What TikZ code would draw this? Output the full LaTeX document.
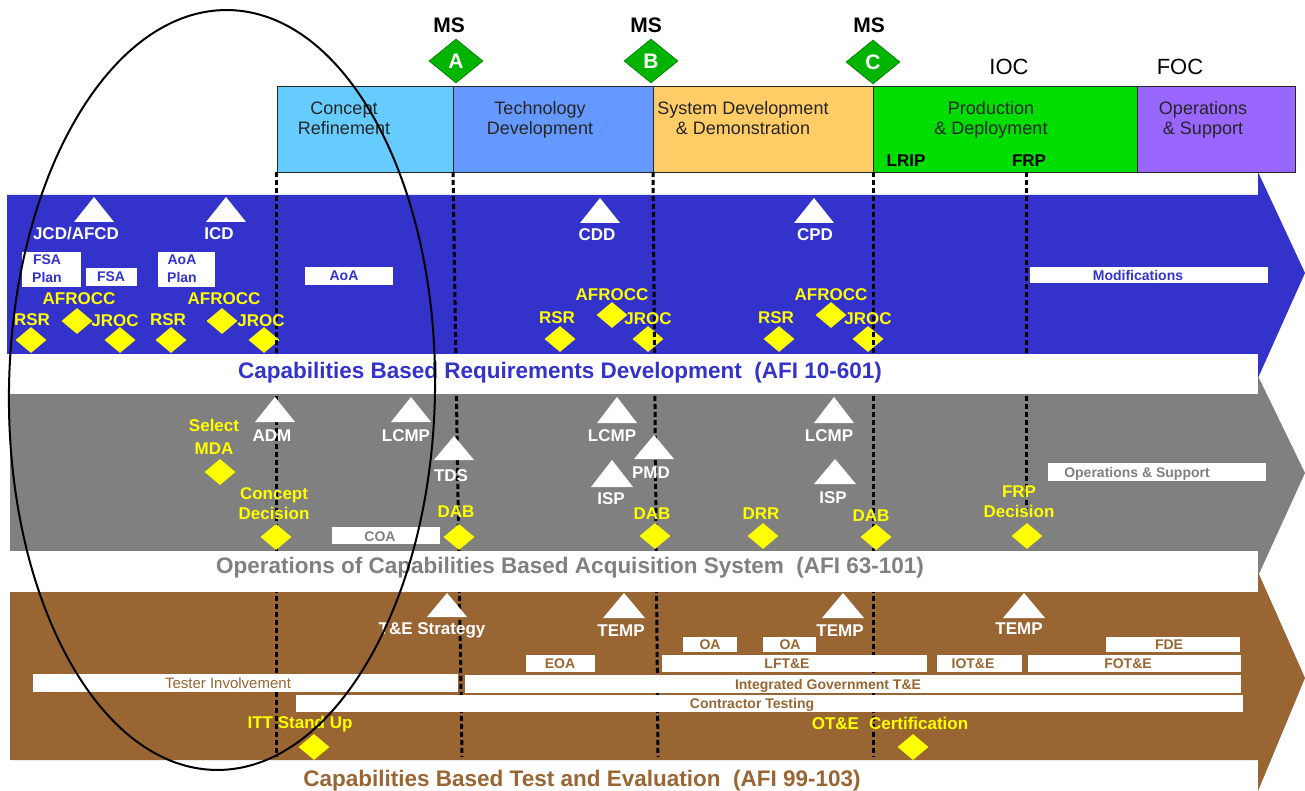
\documentclass[tikz,border=0pt]{standalone}
\usepackage{fontspec}
\setmainfont{Liberation Sans}
\usepackage{tikz}
\usetikzlibrary{shapes.geometric}
\definecolor{reqblue}{HTML}{3333CC}
\definecolor{acqgray}{HTML}{808080}
\definecolor{tebrown}{HTML}{996633}
\definecolor{crblue}{HTML}{66CCFF}
\definecolor{tdblue}{HTML}{6699FF}
\definecolor{sddorange}{HTML}{FFCC66}
\definecolor{pdgreen}{HTML}{00DD00}
\definecolor{ospurple}{HTML}{9966FF}
\definecolor{msgreen}{HTML}{00B400}
\definecolor{msedge}{HTML}{007700}
\definecolor{evyellow}{HTML}{FFFF00}

\begin{document}
\begin{tikzpicture}[line join=miter,x=1pt,y=-1pt,
    phasebox/.style={draw=black!85,line width=0.9pt},
    phasetext/.style={align=center,inner sep=0pt,text=black!85,font=\fontsize{18}{20}\selectfont},
    ratetext/.style={inner sep=0pt,text height=12.2pt,text depth=0pt,font=\fontsize{17}{17}\selectfont\bfseries},
    mstext/.style={inner sep=0pt,text height=15pt,text depth=0pt,font=\fontsize{21}{21}\selectfont\bfseries},
    msdia/.style={diamond,draw=msedge,fill=msgreen,line width=0.6pt,minimum width=54pt,minimum height=44pt,inner sep=0pt,text=white,text height=15pt,text depth=0pt,font=\fontsize{21}{21}\selectfont\bfseries},
    octext/.style={inner sep=0pt,text height=15.8pt,text depth=0pt,font=\fontsize{22}{22}\selectfont},
    msline/.style={line width=3pt,dash pattern=on 5pt off 3pt},
    doctri/.style={fill=white},
    doctext/.style={inner sep=0pt,text=white,text height=12.2pt,text depth=0pt,font=\fontsize{17}{17}\selectfont\bfseries},
    evdia/.style={diamond,fill=evyellow,minimum width=31pt,minimum height=26pt,inner sep=0pt},
    evtext/.style={inner sep=0pt,text=evyellow,text height=12.2pt,text depth=0pt,font=\fontsize{17}{17}\selectfont\bfseries},
    evtwo/.style={inner sep=0pt,text=evyellow,align=center,font=\fontsize{17}{20}\selectfont\bfseries},
    actbox/.style={fill=white},
    acttext/.style={inner sep=0pt,text height=10pt,text depth=0pt,font=\fontsize{14}{14}\selectfont\bfseries},
    acttwo/.style={inner sep=0pt,align=center,font=\fontsize{14}{18}\selectfont\bfseries},
    banner/.style={inner sep=0pt,text height=16.1pt,text depth=0pt,font=\fontsize{22.5}{24}\selectfont\bfseries}]
  \useasboundingbox (0,0) rectangle (1305,791);

  % the three process arrows
  \fill[reqblue] (7,195) -- (1258,195) -- (1258,172) -- (1305,273) -- (1258,378) -- (1258,354) -- (7,354) -- cycle;
  \fill[acqgray] (10,394) -- (1258,394) -- (1258,376) -- (1305,473) -- (1258,576) -- (1258,551) -- (10,551) -- cycle;
  \fill[tebrown] (10,592) -- (1258,592) -- (1258,572) -- (1305,678) -- (1258,791) -- (1258,760) -- (10,760) -- cycle;

  % phases
  \draw[phasebox,fill=crblue] (277,86) rectangle (453,172);
  \draw[phasebox,fill=tdblue] (453,86) rectangle (653,172);
  \draw[phasebox,fill=sddorange] (653,86) rectangle (873,172);
  \draw[phasebox,fill=pdgreen] (873,86) rectangle (1137,172);
  \draw[phasebox,fill=ospurple] (1137,86) rectangle (1295,172);
  \node[phasetext] (pCR) at (344,118) {Concept\\Refinement};
  \node[phasetext] (pTD) at (540,120) {Technology\\Development};
  \node[phasetext] (pSDD) at (743,118) {System Development\\\& Demonstration};
  \node[phasetext] (pPD) at (991,120) {Production\\\& Deployment};
  \node[phasetext] (pOS) at (1203,120) {Operations\\\& Support};
  \node[ratetext] (lLRIP) at (906,160) {LRIP};
  \node[ratetext] (lFRP) at (1029,160) {FRP};

  % milestones
  \node[mstext] (msAtxt) at (449,25) {MS};
  \node[mstext] (msBtxt) at (646,25) {MS};
  \node[mstext] (msCtxt) at (869,25) {MS};
  \node[msdia] (msA) at (456,61) {A};
  \node[msdia] (msB) at (651,61) {B};
  \node[msdia] (msC) at (873,62) {C};
  \node[octext] (lIOC) at (1009,67) {IOC};
  \node[octext] (lFOC) at (1180,67) {FOC};

  % requirements events
  \node[evdia] (dRSRa) at (31,340) {};
  \node[evdia] (dAFa) at (77,321) {};
  \node[evdia] (dJRa) at (120,340) {};
  \node[evdia] (dRSRb) at (171,340) {};
  \node[evdia] (dAFb) at (222,321) {};
  \node[evdia] (dJRb) at (264,340) {};
  \node[evdia] (dRSRc) at (560,339) {};
  \node[evdia] (dAFc) at (612,315) {};
  \node[evdia] (dJRc) at (648,339) {};
  \node[evdia] (dRSRd) at (779,339) {};
  \node[evdia] (dAFd) at (831,315) {};
  \node[evdia] (dJRd) at (868,339) {};

  % milestone lines
  \coordinate (crT) at (276,172); \coordinate (crB) at (276,757);
  \coordinate (aT) at (453,172);  \coordinate (aB) at (462,757);
  \coordinate (bT) at (653,172);  \coordinate (bB) at (658,757);
  \coordinate (cT) at (873,172);  \coordinate (cB) at (873,757);
  \coordinate (frpT) at (1026,172); \coordinate (frpB) at (1026,510);
  \draw[msline] (crT) -- (crB);
  \draw[msline] (aT) -- (aB);
  \draw[msline] (bT) -- (bB);
  \draw[msline] (cT) -- (cB);
  \draw[msline] (frpT) -- (frpB);
  \fill[white] (0,354) rectangle (1258,394);
  \fill[white] (0,551) rectangle (1258,592);

  % documents
  \fill[doctri] (94,197) -- ++(20,25) -- ++(-40,0) -- cycle;
  \fill[doctri] (226,197) -- ++(20,25) -- ++(-40,0) -- cycle;
  \fill[doctri] (600,198) -- ++(20,25) -- ++(-40,0) -- cycle;
  \fill[doctri] (814,198) -- ++(20,25) -- ++(-40,0) -- cycle;
  \fill[doctri] (275,397) -- ++(20,25) -- ++(-40,0) -- cycle;
  \fill[doctri] (411,397) -- ++(20,25) -- ++(-40,0) -- cycle;
  \fill[doctri] (454,436) -- ++(20,24) -- ++(-40,0) -- cycle;
  \fill[doctri] (617,397) -- ++(20,26) -- ++(-40,0) -- cycle;
  \fill[doctri] (654,435) -- ++(20,24) -- ++(-40,0) -- cycle;
  \fill[doctri] (612,460) -- ++(21,27) -- ++(-42,0) -- cycle;
  \fill[doctri] (834,397) -- ++(20,26) -- ++(-40,0) -- cycle;
  \fill[doctri] (835,459) -- ++(21,25) -- ++(-42,0) -- cycle;
  \fill[doctri] (447,593) -- ++(20,24) -- ++(-40,0) -- cycle;
  \fill[doctri] (624,593) -- ++(21,25) -- ++(-42,0) -- cycle;
  \fill[doctri] (843,593) -- ++(21,25) -- ++(-42,0) -- cycle;
  \fill[doctri] (1024,593) -- ++(21,25) -- ++(-42,0) -- cycle;
  \node[doctext] (lJCD) at (76,233) {JCD/AFCD};
  \node[doctext] (lICD) at (219,233) {ICD};
  \node[doctext] (lCDD) at (597,234) {CDD};
  \node[doctext] (lCPD) at (815,234) {CPD};
  \node[doctext] (lADM) at (272,435) {ADM};
  \node[doctext] (lLCMPa) at (406,435) {LCMP};
  \node[doctext] (lTDS) at (451,475) {TDS};
  \node[doctext] (lLCMPb) at (612,435) {LCMP};
  \node[doctext] (lPMD) at (651,472) {PMD};
  \node[doctext] (lISPa) at (611,498) {ISP};
  \node[doctext] (lLCMPc) at (829,435) {LCMP};
  \node[doctext] (lISPb) at (833,497) {ISP};
  \node[doctext] (lTES) at (432,628) {T\&E Strategy};
  \node[doctext] (lTEMPa) at (621,630) {TEMP};
  \node[doctext] (lTEMPb) at (840,630) {TEMP};
  \node[doctext] (lTEMPc) at (1019,628) {TEMP};

  % activities, requirements
  \fill[actbox] (22,252) rectangle (81,287);
  \fill[actbox] (86,268) rectangle (137,286);
  \fill[actbox] (158,252) rectangle (215,287);
  \fill[actbox] (305,267) rectangle (393,285);
  \fill[actbox] (1030,267) rectangle (1268,283);
  \node[acttwo,text=reqblue] (aFSAPlan) at (47,268.5) {FSA\\Plan};
  \node[acttext,text=reqblue] (aFSA) at (111,277) {FSA};
  \node[acttwo,text=reqblue] (aAoAPlan) at (182,268.5) {AoA\\Plan};
  \node[acttext,text=reqblue] (aAoA) at (344,276) {AoA};
  \node[acttext,text=reqblue] (aMod) at (1138,275) {Modifications};

  % activities, acquisition
  \fill[actbox] (332,527) rectangle (440,544);
  \fill[actbox] (1048,463) rectangle (1266,481);
  \node[acttext,text=acqgray] (aCOA) at (380,536) {COA};
  \node[acttext,text=acqgray] (aOS) at (1137,472) {Operations \& Support};

  % activities, test and evaluation
  \fill[actbox] (683,637) rectangle (737,652);
  \fill[actbox] (763,637) rectangle (816,652);
  \fill[actbox] (1106,637) rectangle (1240,652);
  \fill[actbox] (526,655) rectangle (595,672);
  \fill[actbox] (662,655) rectangle (927,672);
  \fill[actbox] (937,655) rectangle (1022,672);
  \fill[actbox] (1028,655) rectangle (1241,672);
  \fill[actbox] (33,674) rectangle (458,692);
  \fill[actbox] (465,675) rectangle (1241,693);
  \fill[actbox] (296,695) rectangle (1243,712);
  \node[acttext,text=tebrown] (aOAa) at (710,644.5) {OA};
  \node[acttext,text=tebrown] (aOAb) at (790,644.5) {OA};
  \node[acttext,text=tebrown] (aFDE) at (1169,644.5) {FDE};
  \node[acttext,text=tebrown] (aEOA) at (560,663.5) {EOA};
  \node[acttext,text=tebrown] (aLFTE) at (787,663.5) {LFT\&E};
  \node[acttext,text=tebrown] (aIOTE) at (973,663.5) {IOT\&E};
  \node[acttext,text=tebrown] (aFOTE) at (1128,663.5) {FOT\&E};
  \node[acttext,text=tebrown,font=\fontsize{15}{15}\selectfont] (aTester) at (228,683) {Tester Involvement};
  \node[acttext,text=tebrown] (aIGTE) at (828,684) {Integrated Government T\&E};
  \node[acttext,text=tebrown] (aCT) at (752,703.5) {Contractor Testing};

  % decision points
  \node[evdia] (dMDA) at (220,472) {};
  \node[evdia] (dCD) at (276,537) {};
  \node[evdia] (dDABa) at (459,537) {};
  \node[evdia] (dDABb) at (655,536) {};
  \node[evdia] (dDRR) at (763,536) {};
  \node[evdia] (dDABc) at (876,537) {};
  \node[evdia] (dFRP) at (1027,536) {};
  \node[evdia] (dITT) at (314,747) {};
  \node[evdia] (dCert) at (913,747) {};
  \node[evtext] (eRSRa) at (32,319) {RSR};
  \node[evtext] (eAFa) at (79,298) {AFROCC};
  \node[evtext] (eJRa) at (115,320) {JROC};
  \node[evtext] (eRSRb) at (168,319) {RSR};
  \node[evtext] (eAFb) at (224,298) {AFROCC};
  \node[evtext] (eJRb) at (261,320) {JROC};
  \node[evtext] (eRSRc) at (557,317) {RSR};
  \node[evtext] (eAFc) at (612,294) {AFROCC};
  \node[evtext] (eJRc) at (648,318) {JROC};
  \node[evtext] (eRSRd) at (776,317) {RSR};
  \node[evtext] (eAFd) at (831,294) {AFROCC};
  \node[evtext] (eJRd) at (868,318) {JROC};
  \node[evtwo,font=\fontsize{17}{23}\selectfont\bfseries] (eMDA) at (214,437) {Select\\MDA};
  \node[evtwo] (eCD) at (274,504) {Concept\\Decision};
  \node[evtext] (eDABa) at (456,511) {DAB};
  \node[evtext] (eDABb) at (652,513) {DAB};
  \node[evtext] (eDRR) at (761,513) {DRR};
  \node[evtext] (eDABc) at (871,515) {DAB};
  \node[evtwo] (eFRP) at (1019,502) {FRP\\Decision};
  \node[evtext] (eITT) at (300,722) {ITT Stand Up};
  \node[evtext] (eCert) at (890,723) {OT\&E\hspace{10pt}Certification};

  % process titles
  \node[banner,text=reqblue] (tReq) at (560,370) {Capabilities Based Requirements Development\ \ (AFI 10-601)};
  \node[banner,text=acqgray] (tAcq) at (570,565) {Operations of Capabilities Based Acquisition System\ \ (AFI 63-101)};
  \node[banner,text=tebrown] (tTE) at (582,778) {Capabilities Based Test and Evaluation\ \ (AFI 99-103)};

  % focus ring
  \draw[line width=2pt,rotate around={-1:(222,390)}] (222,390) ellipse [x radius=213,y radius=380];
\end{tikzpicture}
\end{document}
